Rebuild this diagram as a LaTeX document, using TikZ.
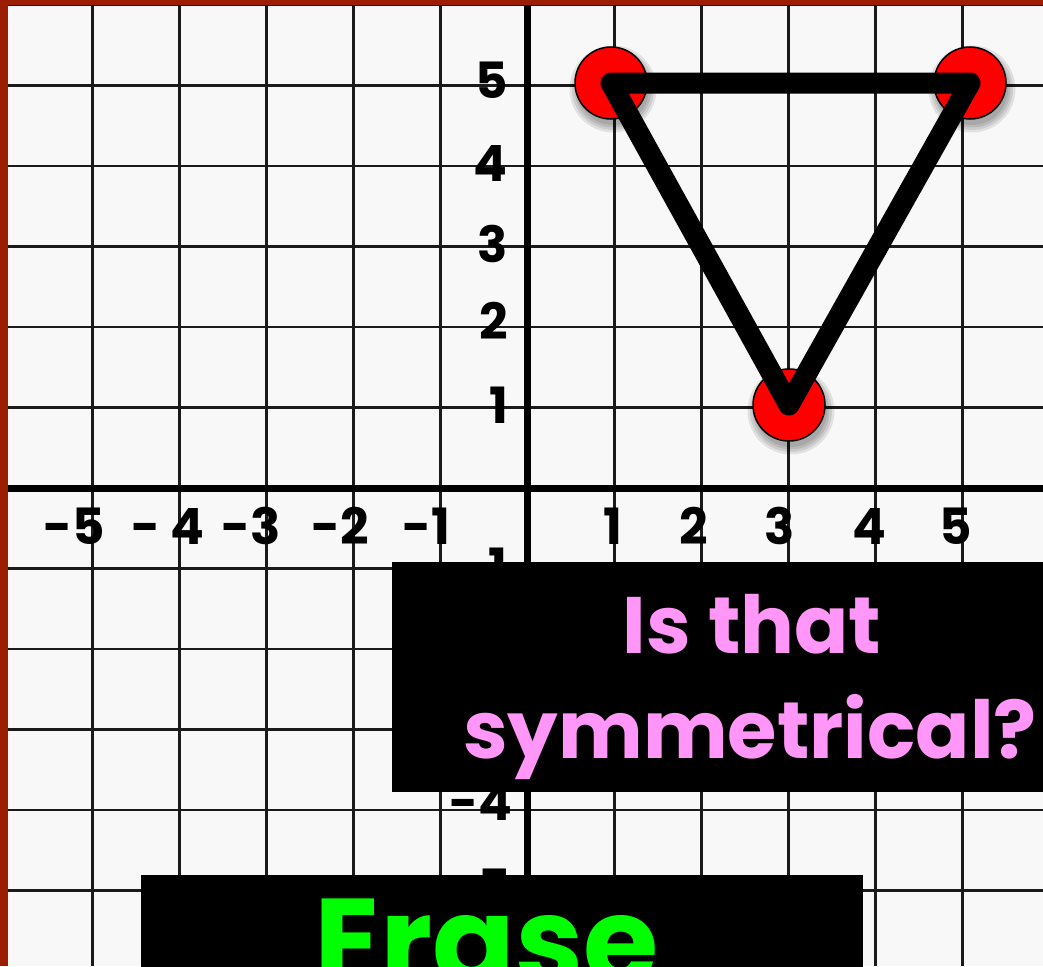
\documentclass[tikz,border=0pt]{standalone}
\usepackage{fontspec}
\setmainfont{Poppins}
\definecolor{bgc}{HTML}{F8F8F8}
\definecolor{bordc}{RGB}{155,30,0}
\definecolor{gridc}{HTML}{1A1A1A}
\definecolor{pinkc}{RGB}{255,150,248}
\definecolor{greenc}{RGB}{0,255,0}
\begin{document}
\begin{tikzpicture}[x=1pt,y=-1pt,
  gridline/.style={draw=gridc,line width=2.5pt},
  axisline/.style={draw=black,line width=7pt},
  lab/.style={inner sep=0pt,font=\fontsize{50}{50}\selectfont\bfseries},
  vtx/.style={circle,fill=red,draw=black,line width=1.5pt,minimum size=72pt,inner sep=0pt},
  shade/.style={fill=black,opacity=0.09},
  tri/.style={line width=21pt,line join=round,line cap=round},
  blackbox/.style={fill=black,inner sep=0pt},
  qtext/.style={inner sep=0pt,text=pinkc,font=\fontsize{80}{80}\selectfont\bfseries},
  etext/.style={inner sep=0pt,text=greenc,font=\fontsize{122}{122}\selectfont\bfseries}]
\useasboundingbox (0,0) rectangle (1043,966);
\fill[bgc] (0,0) rectangle (1043,966);
% grid
\foreach \i in {-6,...,6} \draw[gridline] ({527.5+87*\i},0) -- ({527.5+87*\i},966);
\foreach \j in {-6,...,6} \draw[gridline] (0,{488+80.5*\j}) -- (1043,{488+80.5*\j});
% axes
\draw[axisline] (527.5,0) -- (527.5,966);
\draw[axisline] (0,488) -- (1043,488);
% border
\fill[bordc] (0,0) rectangle (7.5,966);
\fill[bordc] (0,0) rectangle (1043,5);
% y labels
\node[lab,anchor=east] (y5) at (508,80) {5};
\node[lab,anchor=east] (y4) at (508,163) {4};
\node[lab,anchor=east] (y3) at (508,244) {3};
\node[lab,anchor=east] (y2) at (508,321) {2};
\node[lab,anchor=east] (y1) at (508,405) {1};
\node[lab,anchor=east] (ym1) at (507,566) {-1};
\node[lab,anchor=east] (ym4) at (513,802) {-4};
\node[lab,anchor=east] (ym5) at (511,887) {-5};
% x labels
\node[lab] (xm5) at (74,526) {-5};
\node[lab] (xm4) at (168,526) {- 4};
\node[lab] (xm3) at (251,526) {-3};
\node[lab] (xm2) at (340,526) {-2};
\node[lab] (xm1) at (426,526) {-1};
\node[lab] (x1) at (613,526) {1};
\node[lab] (x2) at (694,526) {2};
\node[lab] (x3) at (780,526) {3};
\node[lab] (x4) at (869,526) {4};
\node[lab] (x5) at (956,526) {5};
% triangle vertices
\coordinate (A) at (611,83);
\coordinate (B) at (970,83);
\coordinate (C) at (789,405);
% soft shadows
\foreach \v in {A,B,C}
  \foreach \r in {36,38.5,41,43.5}
    \fill[shade] ([shift={(2,6)}]\v) circle[radius=\r];
\node[vtx] (cA) at (A) {};
\node[vtx] (cB) at (B) {};
\node[vtx] (cC) at (C) {};
\draw[tri] (A) -- (B) -- (C) -- cycle;
% question box
\node[blackbox,minimum width=723pt,minimum height=230pt,anchor=north west] (qbox) at (392,562) {};
\node[qtext,anchor=base] (q1) at (752,653) {Is that};
\node[qtext,anchor=base] (q2) at (750,758) {symmetrical?};
% erase box
\node[blackbox,minimum width=722pt,minimum height=140pt,anchor=north west] (ebox) at (141,875) {};
\node[etext,anchor=base west] (e1) at (314,984) {Erase};
\end{tikzpicture}
\end{document}
